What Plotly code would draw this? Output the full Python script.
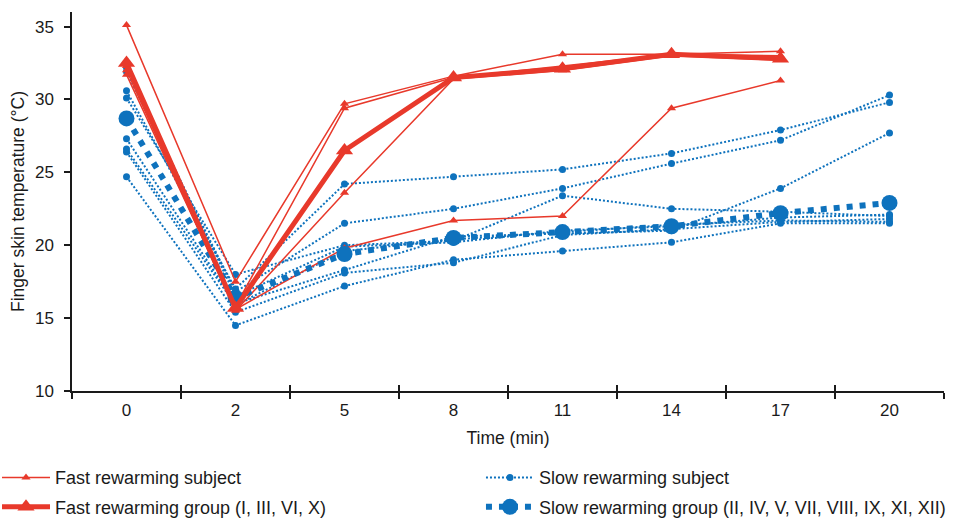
import plotly.graph_objects as go

times = ["0", "2", "5", "8", "11", "14", "17", "20"]
fast_times = times[:7]

fast_subjects = [
    [35.1, 17.5, 29.7, 31.6, 33.1, 33.1, 33.3],
    [32.3, 15.8, 29.4, 31.5, 32.3, 33.1, 33.0],
    [32.0, 15.5, 23.6, 31.4, 32.0, 33.0, 32.7],
    [31.7, 15.6, 19.8, 21.7, 22.0, 29.4, 31.3],
]
fast_group = [32.5, 15.7, 26.5, 31.5, 32.1, 33.1, 32.8]

slow_subjects = [
    [30.6, 17.0, 24.2, 24.7, 25.2, 26.3, 27.9, 29.8],
    [31.9, 16.8, 21.5, 22.5, 23.9, 25.6, 27.2, 30.3],
    [30.1, 18.0, 20.0, 20.3, 23.4, 22.5, 22.3, 22.0],
    [27.3, 16.0, 18.3, 20.6, 20.8, 21.0, 23.9, 27.7],
    [24.7, 14.5, 17.2, 19.0, 19.6, 20.2, 21.5, 21.5],
    [26.4, 15.4, 18.1, 18.8, 20.7, 21.1, 21.6, 21.8],
    [26.6, 15.9, 19.6, 20.4, 20.9, 21.4, 21.7, 21.6],
    [32.2, 16.5, 19.9, 20.2, 21.0, 21.3, 21.9, 22.1],
]
slow_group = [28.7, 16.4, 19.4, 20.5, 20.9, 21.3, 22.2, 22.9]

RED = "#E8392B"
BLUE = "#0E72BD"
INK = "#1a1a1a"
FONT = "Liberation Sans, Arial, sans-serif"

fig = go.Figure()

for i, s in enumerate(slow_subjects):
    fig.add_trace(go.Scatter(
        x=times, y=s, mode="lines+markers", name="Slow rewarming subject",
        legend="legend2", legendgroup="ss", showlegend=(i == 0),
        line=dict(color=BLUE, width=2, dash="2px,2px"),
        marker=dict(symbol="circle", size=7, color=BLUE),
    ))

for i, s in enumerate(fast_subjects):
    fig.add_trace(go.Scatter(
        x=fast_times, y=s, mode="lines+markers", name="Fast rewarming subject",
        legend="legend", legendgroup="fs", showlegend=(i == 0),
        line=dict(color=RED, width=1.5),
        marker=dict(symbol="triangle-up", size=8, color=RED),
    ))

fig.add_trace(go.Scatter(
    x=times, y=slow_group, mode="lines+markers",
    name="Slow rewarming group (II, IV, V, VII, VIII, IX, XI, XII)",
    legend="legend2", legendgroup="sg",
    line=dict(color=BLUE, width=6, dash="6px,7px"),
    marker=dict(symbol="circle", size=16, color=BLUE),
))

fig.add_trace(go.Scatter(
    x=fast_times, y=fast_group, mode="lines+markers",
    name="Fast rewarming group (I, III, VI, X)",
    legend="legend", legendgroup="fg",
    line=dict(color=RED, width=5),
    marker=dict(symbol="triangle-up", size=15, color=RED),
))

# overlay axis for inward half of the crossing ticks
fig.add_trace(go.Scatter(x=times, y=[None]*len(times), xaxis="x2", showlegend=False,
                         hoverinfo="skip", mode="lines"))

legend_common = dict(
    orientation="v", yanchor="top", xanchor="left",
    font=dict(family=FONT, size=18, color=INK),
    itemwidth=48, tracegroupgap=3, traceorder="grouped", bgcolor="rgba(0,0,0,0)",
    itemsizing="trace",
)

fig.update_layout(
    width=957, height=520,
    margin=dict(l=72, r=13, t=12, b=129, autoexpand=False),
    paper_bgcolor="white", plot_bgcolor="white",
    font=dict(family=FONT, size=17, color=INK),
    xaxis=dict(
        type="category", categoryorder="array", categoryarray=times,
        range=[-0.5, 7.5], showgrid=False, zeroline=False,
        showline=True, linecolor=INK, linewidth=1.5,
        ticks="outside", tickson="boundaries", ticklen=6, tickwidth=1.5, tickcolor=INK,
        tickfont=dict(family=FONT, size=17, color=INK), ticklabelstandoff=3,
        title=dict(text="Time (min)", font=dict(family=FONT, size=17.5, color=INK), standoff=13),
    ),
    xaxis2=dict(
        type="category", categoryorder="array", categoryarray=times,
        overlaying="x", range=[-0.5, 7.5], showgrid=False, zeroline=False,
        showline=False, ticks="inside", tickson="boundaries", ticklen=6, tickwidth=1.5,
        tickcolor=INK, showticklabels=False, side="bottom",
    ),
    yaxis=dict(
        range=[10, 36], tickvals=[10, 15, 20, 25, 30, 35], showgrid=False, zeroline=False,
        showline=True, linecolor=INK, linewidth=1.5,
        ticks="outside", ticklen=6, tickwidth=1.5, tickcolor=INK,
        tickfont=dict(family=FONT, size=17, color=INK), ticklabelstandoff=7,
        title=dict(text="Finger skin temperature (°C)", font=dict(family=FONT, size=17.5, color=INK), standoff=6),
    ),
    legend=dict(x=-0.086, y=-0.18, **legend_common),
    legend2=dict(x=0.469, y=-0.18, **legend_common),
)

fig.write_html("out.html")
